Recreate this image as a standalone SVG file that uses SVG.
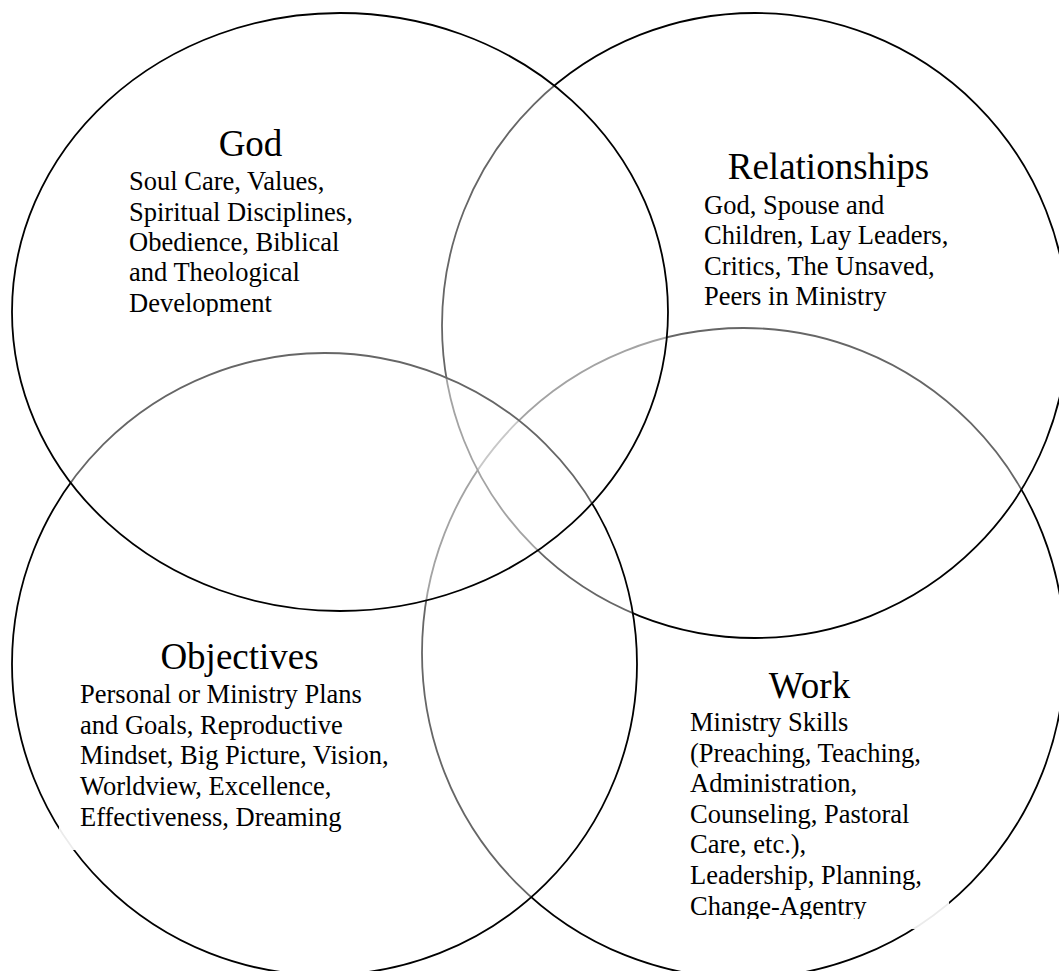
<svg xmlns="http://www.w3.org/2000/svg" width="1059" height="971" viewBox="0 0 1059 971">
  <style>
    .ring { fill: #ffffff; fill-opacity: 0.4; stroke: #000000; stroke-width: 1.8; }
    .pad { fill: #ffffff; fill-opacity: 0.92; stroke: none; }
    .title { font-family: "Liberation Serif", "Times New Roman", serif; font-size: 37px; text-anchor: middle; fill: #000000; }
    .body { font-family: "Liberation Serif", "Times New Roman", serif; font-size: 26.5px; fill: #000000; }
  </style>
  <defs>
    <clipPath id="clip-god-text">
      <rect x="100" y="100" width="300" height="216"/>
    </clipPath>
    <clipPath id="clip-work-text">
      <rect x="660" y="640" width="300" height="279"/>
    </clipPath>
  </defs>

  <rect x="0" y="0" width="1059" height="971" fill="#ffffff"/>

  <!-- Stacking order, bottom to top: Work, Relationships, Objectives, God.
       Each ring has a partly transparent white fill, so the outlines of the
       rings beneath show through as grey. -->

  <g id="work">
    <ellipse class="ring" cx="743.5" cy="653" rx="321.5" ry="325"/>
    <rect class="pad" x="670" y="655" width="279" height="274"/>
    <text class="title" x="809.5" y="698">Work</text>
    <g clip-path="url(#clip-work-text)">
      <text class="body">
        <tspan x="690" y="731">Ministry Skills</tspan>
        <tspan x="690" y="761.6">(Preaching, Teaching,</tspan>
        <tspan x="690" y="792.2">Administration,</tspan>
        <tspan x="690" y="822.8">Counseling, Pastoral</tspan>
        <tspan x="690" y="853.4">Care, etc.),</tspan>
        <tspan x="690" y="884">Leadership, Planning,</tspan>
        <tspan x="690" y="915">Change-Agentry</tspan>
      </text>
    </g>
  </g>

  <g id="relationships">
    <ellipse class="ring" cx="755" cy="325.5" rx="313" ry="312.5"/>
    <rect class="pad" x="690" y="140" width="275" height="182"/>
    <text class="title" x="828.5" y="179">Relationships</text>
    <text class="body">
      <tspan x="704" y="213.5">God, Spouse and</tspan>
      <tspan x="704" y="244">Children, Lay Leaders,</tspan>
      <tspan x="704" y="274.5">Critics, The Unsaved,</tspan>
      <tspan x="704" y="305">Peers in Ministry</tspan>
    </text>
  </g>

  <g id="objectives">
    <ellipse class="ring" cx="324.5" cy="664" rx="312.5" ry="311"/>
    <rect class="pad" x="59" y="618" width="360" height="232"/>
    <text class="title" x="239.5" y="669">Objectives</text>
    <text class="body">
      <tspan x="80" y="703">Personal or Ministry Plans</tspan>
      <tspan x="80" y="733.5">and Goals, Reproductive</tspan>
      <tspan x="80" y="764">Mindset, Big Picture, Vision,</tspan>
      <tspan x="80" y="794.5">Worldview, Excellence,</tspan>
      <tspan x="80" y="825.5">Effectiveness, Dreaming</tspan>
    </text>
  </g>

  <g id="god">
    <ellipse class="ring" cx="340" cy="312" rx="328" ry="299"/>
    <rect class="pad" x="106" y="115" width="265" height="209"/>
    <text class="title" x="250.5" y="156">God</text>
    <g clip-path="url(#clip-god-text)">
      <text class="body">
        <tspan x="129" y="190.2">Soul Care, Values,</tspan>
        <tspan x="129" y="220.5">Spiritual Disciplines,</tspan>
        <tspan x="129" y="250.9">Obedience, Biblical</tspan>
        <tspan x="129" y="281.3">and Theological</tspan>
        <tspan x="129" y="311.7">Development</tspan>
      </text>
    </g>
  </g>
</svg>
